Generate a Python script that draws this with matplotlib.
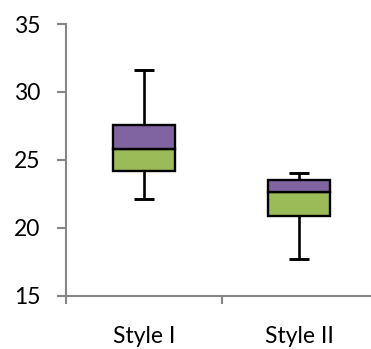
import matplotlib
matplotlib.use("Agg")
import matplotlib.pyplot as plt

categories = ["Style I", "Style II"]
whisker_low = [22.1, 17.7]
q1 = [24.2, 20.9]
median = [25.8, 22.6]
q3 = [27.6, 23.5]
whisker_high = [31.6, 24.0]
y_ticks = [15, 20, 25, 30, 35]

plt.rcParams["font.family"] = ["Lato", "DejaVu Sans"]

fig = plt.figure(figsize=(3.71, 3.49), dpi=100)
ax = fig.add_axes([66 / 371, 53.3 / 349, 311 / 371, 271.7 / 349])

x = list(range(len(categories)))
box_w = 0.4
cap_w = 0.13
axis_grey = "#868686"

for i in x:
    # whiskers
    ax.plot([i, i], [whisker_low[i], q1[i]], color="black", lw=1.9, zorder=2, solid_capstyle="butt")
    ax.plot([i, i], [q3[i], whisker_high[i]], color="black", lw=1.9, zorder=2, solid_capstyle="butt")
    ax.plot([i - cap_w / 2, i + cap_w / 2], [whisker_low[i]] * 2, color="black", lw=2.1, zorder=2, solid_capstyle="butt")
    ax.plot([i - cap_w / 2, i + cap_w / 2], [whisker_high[i]] * 2, color="black", lw=2.1, zorder=2, solid_capstyle="butt")

# lower half of box (Q1 -> median) and upper half (median -> Q3)
ax.bar(x, [m - a for m, a in zip(median, q1)], bottom=q1, width=box_w,
       color="#9BBB59", edgecolor="black", linewidth=1.7, zorder=3)
ax.bar(x, [b - m for b, m in zip(q3, median)], bottom=median, width=box_w,
       color="#8064A2", edgecolor="black", linewidth=1.7, zorder=3)

ax.set_xlim(-0.5, 1.5)
ax.set_ylim(15, 35)
ax.set_yticks(y_ticks)
ax.set_yticklabels([str(t) for t in y_ticks])
ax.set_xticks([-0.5, 0.5, 1.5])
ax.set_xticklabels([])
ax.set_xticks(x, minor=True)
ax.set_xticklabels(categories, minor=True)

for side in ("top", "right"):
    ax.spines[side].set_visible(False)
for side in ("left", "bottom"):
    ax.spines[side].set_color(axis_grey)
    ax.spines[side].set_linewidth(1.5)

ax.tick_params(axis="y", which="major", direction="out", length=6.5, width=1.5,
               color=axis_grey, labelsize=16.5, pad=12, labelcolor="black")
ax.tick_params(axis="x", which="major", direction="out", length=6, width=1.5, color=axis_grey)
ax.tick_params(axis="x", which="minor", length=0, labelsize=16.5, pad=22, labelcolor="black")

fig.savefig("out.png", dpi=100)
